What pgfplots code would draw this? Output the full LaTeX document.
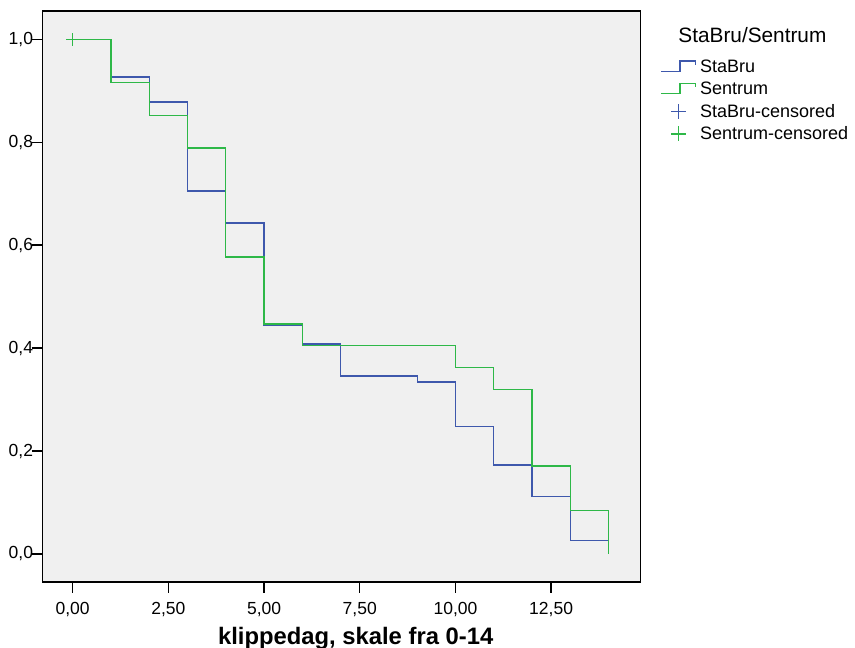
\documentclass[border=0pt]{standalone}
\usepackage{fontspec}
\setmainfont{Liberation Sans}
\usepackage{pgfplots}
\pgfplotsset{compat=1.18}
\definecolor{stabru}{HTML}{3E58AC}
\definecolor{sentrum}{HTML}{2EB848}
\definecolor{plotbg}{HTML}{F0F0F0}
\pgfplotsset{
    steplegend/.style={legend image code/.code={%
        \draw[##1] (0pt,-4.3pt) -- (18.6pt,-4.3pt) -- (18.6pt,6pt) -- (34.3pt,6pt) -- (34.3pt,2pt);}},
    pluslegend/.style={legend image code/.code={%
        \draw[##1, mark size=7.5pt] plot coordinates {(17.3pt,0pt)};}},
}

\begin{document}
\begin{tikzpicture}
\begin{axis}[
    name=ax,
    scale only axis,
    width=598pt, height=571pt,
    xmin=-0.783, xmax=14.84,
    ymin=-0.0544, ymax=1.055,
    axis background/.style={fill=plotbg},
    axis line style={line width=1.4pt, black},
    tick pos=left,
    tick align=outside,
    major tick length=11pt,
    xtick={0,2.5,5,7.5,10,12.5},
    ytick={0,0.2,0.4,0.6,0.8,1.0},
    major tick style={line width=1.4pt, black},
    /pgf/number format/assume math mode=true,
    xticklabel style={/pgf/number format/.cd, fixed, fixed zerofill, precision=2, use comma,
        /tikz/.cd, font=\fontsize{17.5}{18}\selectfont, inner sep=0pt, yshift=-9pt},
    yticklabel style={/pgf/number format/.cd, fixed, fixed zerofill, precision=1, use comma,
        /tikz/.cd, font=\fontsize{17.5}{18}\selectfont, inner sep=0pt, xshift=1.5pt},
    xlabel={\textbf{klippedag, skale fra 0-14}},
    xlabel style={font=\fontsize{23.8}{24}\selectfont, inner sep=0pt, xshift=14pt, yshift=-10pt},
    legend style={at={(1,1)}, anchor=north west, xshift=19.7pt, yshift=-47.4pt,
        draw=none, fill=none, inner sep=0pt, row sep=5.3pt,
        font=\fontsize{18}{18}\selectfont,
        nodes={inner ysep=0pt, inner xsep=4pt, text height=14pt, text depth=3pt}},
    legend cell align=left,
    clip=false,
]
\addplot[const plot, stabru, line width=1.3pt, steplegend]
coordinates {
    (0,1) (1,0.927) (2,0.878) (3,0.705) (4,0.643) (5,0.445) (6,0.408)
    (7,0.346) (9,0.334) (10,0.248) (11,0.173) (12,0.112) (13,0.026) (14,0)
};
\addlegendentry{StaBru}
\addplot[const plot, sentrum, line width=1.3pt, steplegend]
coordinates {
    (0,1) (1,0.916) (2,0.852) (3,0.789) (4,0.577) (5,0.447) (6,0.405)
    (10,0.363) (11,0.320) (12,0.171) (13,0.085) (14,0)
};
\addlegendentry{Sentrum}
\addplot[only marks, mark=+, mark size=6.3pt, stabru, line width=1.3pt, pluslegend]
coordinates {(0,1)};
\addlegendentry{StaBru-censored}
\addplot[only marks, mark=+, mark size=6.3pt, sentrum, line width=1.3pt, pluslegend]
coordinates {(0,1)};
\addlegendentry{Sentrum-censored}
\end{axis}
\node[font=\fontsize{20.8}{21}\selectfont] at ([shift={(111.7pt,-24pt)}]ax.north east) {StaBru/Sentrum};
\pgfresetboundingbox
\path ([shift={(-42.7pt,-66pt)}]ax.south west) rectangle ++(855pt,648pt);
\end{tikzpicture}
\end{document}
